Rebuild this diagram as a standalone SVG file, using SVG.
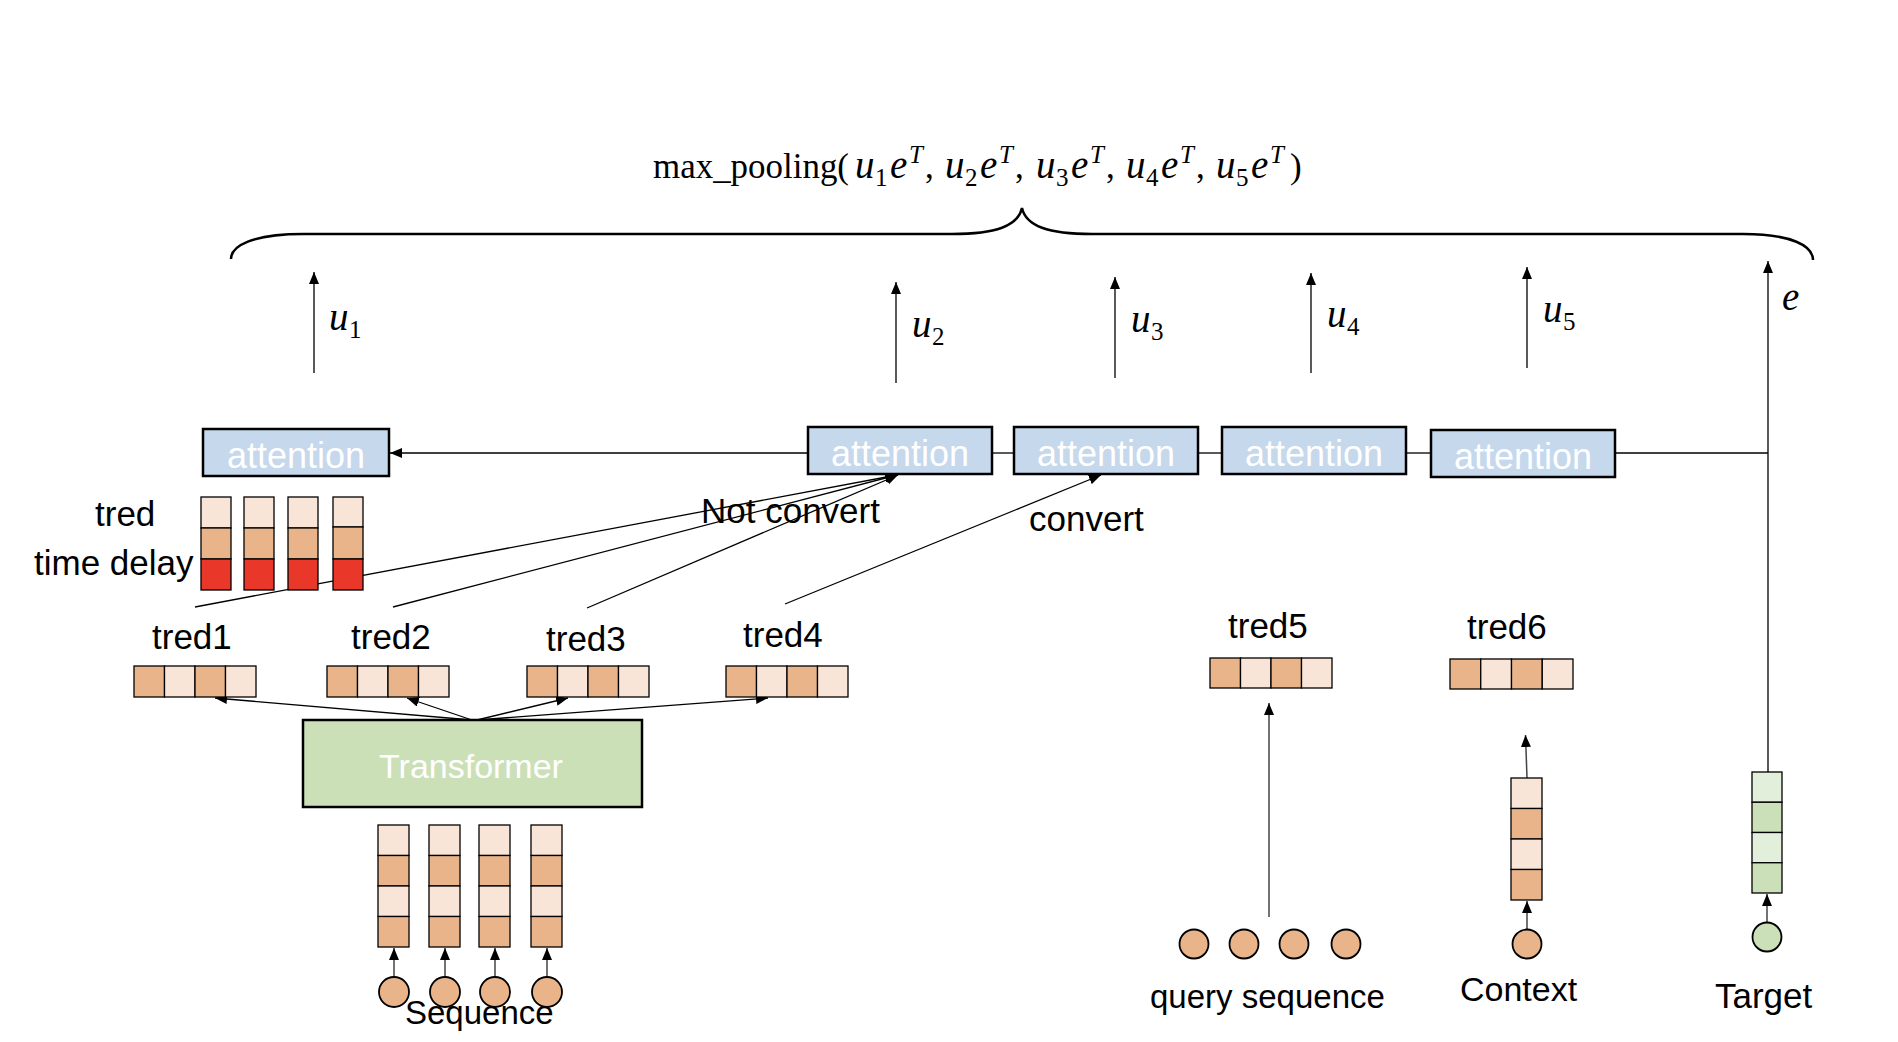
<svg xmlns="http://www.w3.org/2000/svg" width="1898" height="1042" viewBox="0 0 1898 1042">
<defs>
<style>
.lbl{font-family:"Liberation Sans","DejaVu Sans",sans-serif;font-size:35px;fill:#000}
.wt{font-family:"Liberation Sans","DejaVu Sans",sans-serif;font-size:36px;fill:#fff;text-anchor:middle}
.math{font-family:"Liberation Serif","DejaVu Serif",serif;font-size:35px;fill:#000}
.mi{font-style:italic;font-size:39px}
.sm{font-size:25px}
.sup{font-style:italic;font-size:25px}
.att{fill:#C5D8EC;stroke:#000;stroke-width:2.5}
.cell{stroke:#000;stroke-width:1.3}
.lt{fill:#F8E5D7}
.dk{fill:#E9B48A}
.rd{fill:#E9382A}
.lg{fill:#E2EFDA}
.gr{fill:#CBDFB8}
.ln{fill:none;stroke:#000;stroke-width:1.3}
.gl{fill:none;stroke:#444;stroke-width:1.5}
.circ{stroke:#000;stroke-width:1.8}
</style>
<marker id="ah" viewBox="0 0 12 10" refX="12" refY="5" markerWidth="12" markerHeight="10" markerUnits="userSpaceOnUse" orient="auto">
<path d="M0,0 L12,5 L0,10 z" fill="#000"/>
</marker>
</defs>
<rect width="1898" height="1042" fill="#fff"/>

<g id="connectors">
<line class="ln" x1="314" y1="373" x2="314" y2="272" marker-end="url(#ah)"/>
<line class="ln" x1="896" y1="383" x2="896" y2="282" marker-end="url(#ah)"/>
<line class="ln" x1="1115" y1="378" x2="1115" y2="277" marker-end="url(#ah)"/>
<line class="ln" x1="1311" y1="373" x2="1311" y2="273" marker-end="url(#ah)"/>
<line class="ln" x1="1527" y1="368" x2="1527" y2="267" marker-end="url(#ah)"/>
<line class="ln" x1="1768" y1="772" x2="1768" y2="261" marker-end="url(#ah)"/>
<line class="ln" x1="808" y1="453" x2="390" y2="453" marker-end="url(#ah)"/>
<line class="ln" x1="992" y1="453" x2="1014" y2="453"/>
<line class="ln" x1="1198" y1="453" x2="1222" y2="453"/>
<line class="ln" x1="1406" y1="453" x2="1431" y2="453"/>
<line class="ln" x1="1615" y1="453" x2="1768" y2="453"/>
<line class="ln" x1="195" y1="607" x2="897" y2="475" marker-end="url(#ah)"/>
<line class="ln" x1="393" y1="607" x2="897" y2="475" marker-end="url(#ah)"/>
<line class="ln" x1="587" y1="608" x2="898" y2="475" marker-end="url(#ah)"/>
<line class="ln" x1="785" y1="604" x2="1101" y2="475" marker-end="url(#ah)"/>
<line class="ln" x1="472" y1="720" x2="215" y2="698" marker-end="url(#ah)"/>
<line class="ln" x1="472" y1="720" x2="407" y2="698" marker-end="url(#ah)"/>
<line class="ln" x1="477" y1="720" x2="568" y2="698" marker-end="url(#ah)"/>
<line class="ln" x1="477" y1="720" x2="768" y2="698" marker-end="url(#ah)"/>
<line class="gl" x1="394" y1="977" x2="394" y2="948" marker-end="url(#ah)"/>
<line class="gl" x1="445" y1="977" x2="445" y2="948" marker-end="url(#ah)"/>
<line class="gl" x1="495" y1="977" x2="495" y2="948" marker-end="url(#ah)"/>
<line class="gl" x1="547" y1="977" x2="547" y2="948" marker-end="url(#ah)"/>
<line class="gl" x1="1269" y1="917" x2="1269" y2="703" marker-end="url(#ah)"/>
<line class="gl" x1="1527" y1="929" x2="1527" y2="901" marker-end="url(#ah)"/>
<line class="gl" x1="1527" y1="778" x2="1525.5" y2="735" marker-end="url(#ah)"/>
<line class="gl" x1="1767" y1="922" x2="1767" y2="894" marker-end="url(#ah)"/>
</g>

<g id="title">
<text class="math" y="178"><tspan x="653" textLength="196" lengthAdjust="spacingAndGlyphs">max_pooling(</tspan><tspan class="mi" x="855">u</tspan><tspan class="sm" x="875" y="186">1</tspan><tspan class="mi" x="890" y="178">e</tspan><tspan class="sup" x="909" y="163">T</tspan><tspan x="925" y="178">,</tspan><tspan class="mi" x="945">u</tspan><tspan class="sm" x="965" y="186">2</tspan><tspan class="mi" x="980" y="178">e</tspan><tspan class="sup" x="999" y="163">T</tspan><tspan x="1015" y="178">,</tspan><tspan class="mi" x="1036">u</tspan><tspan class="sm" x="1056" y="186">3</tspan><tspan class="mi" x="1071" y="178">e</tspan><tspan class="sup" x="1090" y="163">T</tspan><tspan x="1106" y="178">,</tspan><tspan class="mi" x="1126">u</tspan><tspan class="sm" x="1146" y="186">4</tspan><tspan class="mi" x="1161" y="178">e</tspan><tspan class="sup" x="1180" y="163">T</tspan><tspan x="1196" y="178">,</tspan><tspan class="mi" x="1216">u</tspan><tspan class="sm" x="1236" y="186">5</tspan><tspan class="mi" x="1251" y="178">e</tspan><tspan class="sup" x="1270" y="163">T</tspan><tspan x="1290" y="178">)</tspan></text>
</g>

<g id="brace">
<path d="M231,259 C231,246 252,234 303,234 L952,234 C996,234 1018,226 1022,208 C1026,226 1048,234 1092,234 L1743,234 C1792,234 1813,246 1813,260" fill="none" stroke="#000" stroke-width="2.5"/>
</g>

<g id="u-labels">
<text class="math" y="330"><tspan class="mi" x="329">u</tspan><tspan class="sm" x="349" y="338">1</tspan></text>
<text class="math" y="337"><tspan class="mi" x="912">u</tspan><tspan class="sm" x="932" y="345">2</tspan></text>
<text class="math" y="332"><tspan class="mi" x="1131">u</tspan><tspan class="sm" x="1151" y="340">3</tspan></text>
<text class="math" y="327"><tspan class="mi" x="1327">u</tspan><tspan class="sm" x="1347" y="335">4</tspan></text>
<text class="math" y="322"><tspan class="mi" x="1543">u</tspan><tspan class="sm" x="1563" y="330">5</tspan></text>
<text class="math" y="310"><tspan class="mi" x="1782">e</tspan></text>
</g>

<g id="attention1"><rect class="att" x="203" y="429" width="186" height="47"/><text class="wt" x="296" y="468">attention</text></g>
<g id="attention2"><rect class="att" x="808" y="427" width="184" height="47"/><text class="wt" x="900" y="466">attention</text></g>
<g id="attention3"><rect class="att" x="1014" y="427" width="184" height="47"/><text class="wt" x="1106" y="466">attention</text></g>
<g id="attention4"><rect class="att" x="1222" y="427" width="184" height="47"/><text class="wt" x="1314" y="466">attention</text></g>
<g id="attention5"><rect class="att" x="1431" y="430" width="184" height="47"/><text class="wt" x="1523" y="469">attention</text></g>

<g id="tred-time-delay">
<text class="lbl" x="95" y="526">tred</text>
<text class="lbl" x="34" y="575">time delay</text>
<rect class="cell lt" x="201" y="497" width="30" height="31"/><rect class="cell dk" x="201" y="528" width="30" height="31"/><rect class="cell rd" x="201" y="559" width="30" height="31"/>
<rect class="cell lt" x="244" y="497" width="30" height="31"/><rect class="cell dk" x="244" y="528" width="30" height="31"/><rect class="cell rd" x="244" y="559" width="30" height="31"/>
<rect class="cell lt" x="288" y="497" width="30" height="31"/><rect class="cell dk" x="288" y="528" width="30" height="31"/><rect class="cell rd" x="288" y="559" width="30" height="31"/>
<rect class="cell lt" x="333" y="497" width="30" height="30"/><rect class="cell dk" x="333" y="527" width="30" height="32"/><rect class="cell rd" x="333" y="559" width="30" height="31"/>
</g>

<g id="edge-labels">
<text class="lbl" x="701" y="523">Not convert</text>
<text class="lbl" x="1029" y="531">convert</text>
</g>

<g id="tred1"><text class="lbl" x="152" y="649">tred1</text>
<rect class="cell dk" x="134" y="666" width="30.5" height="31"/><rect class="cell lt" x="164.5" y="666" width="30.5" height="31"/><rect class="cell dk" x="195" y="666" width="30.5" height="31"/><rect class="cell lt" x="225.5" y="666" width="30.5" height="31"/></g>
<g id="tred2"><text class="lbl" x="351" y="649">tred2</text>
<rect class="cell dk" x="327" y="666" width="30.5" height="31"/><rect class="cell lt" x="357.5" y="666" width="30.5" height="31"/><rect class="cell dk" x="388" y="666" width="30.5" height="31"/><rect class="cell lt" x="418.5" y="666" width="30.5" height="31"/></g>
<g id="tred3"><text class="lbl" x="546" y="651">tred3</text>
<rect class="cell dk" x="527" y="666" width="30.5" height="31"/><rect class="cell lt" x="557.5" y="666" width="30.5" height="31"/><rect class="cell dk" x="588" y="666" width="30.5" height="31"/><rect class="cell lt" x="618.5" y="666" width="30.5" height="31"/></g>
<g id="tred4"><text class="lbl" x="743" y="647">tred4</text>
<rect class="cell dk" x="726" y="666" width="30.5" height="31"/><rect class="cell lt" x="756.5" y="666" width="30.5" height="31"/><rect class="cell dk" x="787" y="666" width="30.5" height="31"/><rect class="cell lt" x="817.5" y="666" width="30.5" height="31"/></g>
<g id="tred5"><text class="lbl" x="1228" y="638">tred5</text>
<rect class="cell dk" x="1210" y="658" width="30.5" height="30"/><rect class="cell lt" x="1240.5" y="658" width="30.5" height="30"/><rect class="cell dk" x="1271" y="658" width="30.5" height="30"/><rect class="cell lt" x="1301.5" y="658" width="30.5" height="30"/></g>
<g id="tred6"><text class="lbl" x="1467" y="639">tred6</text>
<rect class="cell dk" x="1450" y="659" width="30.75" height="30"/><rect class="cell lt" x="1480.75" y="659" width="30.75" height="30"/><rect class="cell dk" x="1511.5" y="659" width="30.75" height="30"/><rect class="cell lt" x="1542.25" y="659" width="30.75" height="30"/></g>

<g id="transformer">
<rect x="303" y="720" width="339" height="87" fill="#CCE0B8" stroke="#000" stroke-width="2.5"/>
<text class="wt" x="471" y="778" style="font-size:34px">Transformer</text>
</g>

<g id="sequence">
<rect class="cell lt" x="378" y="825" width="31" height="30.5"/><rect class="cell dk" x="378" y="855.5" width="31" height="30.5"/><rect class="cell lt" x="378" y="886" width="31" height="30.5"/><rect class="cell dk" x="378" y="916.5" width="31" height="30.5"/>
<rect class="cell lt" x="429" y="825" width="31" height="30.5"/><rect class="cell dk" x="429" y="855.5" width="31" height="30.5"/><rect class="cell lt" x="429" y="886" width="31" height="30.5"/><rect class="cell dk" x="429" y="916.5" width="31" height="30.5"/>
<rect class="cell lt" x="479" y="825" width="31" height="30.5"/><rect class="cell dk" x="479" y="855.5" width="31" height="30.5"/><rect class="cell lt" x="479" y="886" width="31" height="30.5"/><rect class="cell dk" x="479" y="916.5" width="31" height="30.5"/>
<rect class="cell lt" x="531" y="825" width="31" height="30.5"/><rect class="cell dk" x="531" y="855.5" width="31" height="30.5"/><rect class="cell lt" x="531" y="886" width="31" height="30.5"/><rect class="cell dk" x="531" y="916.5" width="31" height="30.5"/>
<ellipse class="circ dk" cx="394" cy="992" rx="15" ry="15"/>
<ellipse class="circ dk" cx="445" cy="992" rx="15" ry="15"/>
<ellipse class="circ dk" cx="495" cy="992" rx="15" ry="15"/>
<ellipse class="circ dk" cx="547" cy="992" rx="15" ry="15"/>
<text class="lbl" x="405" y="1024" style="font-size:33px">Sequence</text>
</g>

<g id="query-sequence">
<ellipse class="circ dk" cx="1194" cy="944" rx="14.5" ry="14.5"/>
<ellipse class="circ dk" cx="1244" cy="944" rx="14.5" ry="14.5"/>
<ellipse class="circ dk" cx="1294" cy="944" rx="14.5" ry="14.5"/>
<ellipse class="circ dk" cx="1346" cy="944" rx="14.5" ry="14.5"/>
<text class="lbl" x="1150" y="1008" style="font-size:33px">query sequence</text>
</g>

<g id="context">
<rect class="cell lt" x="1511" y="778" width="31" height="30.5"/><rect class="cell dk" x="1511" y="808.5" width="31" height="30.5"/><rect class="cell lt" x="1511" y="839" width="31" height="30.5"/><rect class="cell dk" x="1511" y="869.5" width="31" height="30.5"/>
<ellipse class="circ dk" cx="1527" cy="944" rx="14.5" ry="14.5"/>
<text class="lbl" x="1460" y="1001" style="font-size:34px">Context</text>
</g>

<g id="target">
<rect class="cell lg" x="1752" y="772" width="30" height="30.25"/><rect class="cell gr" x="1752" y="802.25" width="30" height="30.25"/><rect class="cell lg" x="1752" y="832.5" width="30" height="30.25"/><rect class="cell gr" x="1752" y="862.75" width="30" height="30.25"/>
<ellipse class="circ gr" cx="1767" cy="937" rx="14.5" ry="14.5"/>
<text class="lbl" x="1715" y="1008">Target</text>
</g>
</svg>
